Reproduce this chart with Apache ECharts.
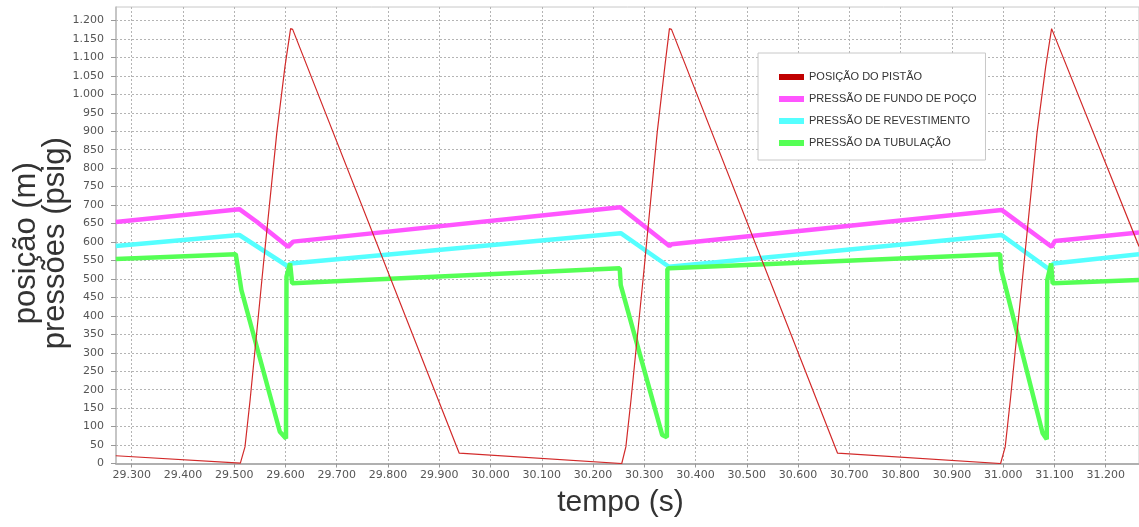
<!DOCTYPE html>
<html>
<head>
<meta charset="utf-8">
<title>posição / pressões</title>
<script src="https://cdn.jsdelivr.net/npm/echarts@6/dist/echarts.min.js"></script>
<style>
    html, body {margin: 0; padding: 0; background: #fff;}
    #main {width: 1139px; height: 527px;}
</style>
</head>
<body>
<div id="main"></div>
<script>
// eixos
const xTicks = [29.3, 29.4, 29.5, 29.6, 29.7, 29.8, 29.9, 30.0, 30.1, 30.2, 30.3, 30.4, 30.5, 30.6, 30.7, 30.8, 30.9, 31.0, 31.1, 31.2];
const yTicks = [0, 50, 100, 150, 200, 250, 300, 350, 400, 450, 500, 550, 600, 650, 700, 750, 800, 850, 900, 950, 1000, 1050, 1100, 1150, 1200];

// [tempo, valor]
const posicaoPistao = [
    [29.269, 21], [29.512, 1], [29.521, 45], [29.531, 172], [29.5565, 533], [29.583, 895], [29.599, 1075],
    [29.610, 1178], [29.614, 1176], [29.939, 28], [30.256, 0],
    [30.264, 45], [30.274, 172], [30.300, 533], [30.325, 895], [30.340, 1075], [30.349, 1178], [30.353, 1176],
    [30.677, 28], [30.995, 0],
    [31.004, 45], [31.014, 172], [31.040, 533], [31.066, 895], [31.083, 1075], [31.0945, 1178], [31.098, 1176],
    [31.265, 588]
];
const pressaoFundo = [
    [29.269, 654], [29.510, 689], [29.544, 655], [29.605, 587], [29.615, 601], [30.253, 694],
    [30.349, 589], [30.353, 594], [30.997, 687], [31.0945, 587], [31.101, 603], [31.265, 626]
];
const pressaoRevestimento = [
    [29.269, 589], [29.510, 619], [29.606, 533], [29.610, 542], [30.254, 624], [30.348, 533],
    [30.997, 619], [31.090, 526], [31.098, 542], [31.265, 567]
];
const pressaoTubulacao = [
    [29.269, 554], [29.503, 567], [29.514, 470], [29.589, 86], [29.601, 68], [29.602, 506], [29.609, 542],
    [29.613, 488], [30.252, 529], [30.254, 483], [30.335, 77], [30.344, 71], [30.345, 527], [30.3495, 529],
    [30.994, 567], [30.996, 526], [31.077, 82], [31.085, 66], [31.086, 497], [31.0935, 542], [31.0965, 488],
    [31.265, 497]
];

const tickFont = {fontFamily: 'DejaVu Sans', fontSize: 11, color: '#555'};
const gridLine = {show: true, lineStyle: {color: '#b4b4b4', type: [2, 2], width: 1}};

function fmtMilhar(v) {
    return String(v).replace(/\B(?=(\d{3})+(?!\d))/g, '.');
}

const chart = echarts.init(document.getElementById('main'));
chart.setOption({
    animation: false,
    backgroundColor: '#fff',
    grid: {
        left: 116, right: 0, top: 7, bottom: 63.5,
        outerBoundsMode: 'none', containLabel: false,
        show: true, borderColor: '#c8c8c8', borderWidth: 1
    },
    legend: {
        orient: 'vertical', left: 758, top: 53,
        backgroundColor: '#fff', borderColor: '#c8c8c8', borderWidth: 1,
        padding: [17, 9, 10, 21],
        itemWidth: 25, itemHeight: 6, itemGap: 8, icon: 'rect',
        textStyle: {fontFamily: 'Liberation Sans', fontSize: 11, lineHeight: 14, color: '#333'}
    },
    xAxis: {
        type: 'value', min: 29.2694, max: 31.265,
        name: 'tempo (s)', nameLocation: 'middle', nameGap: 24,
        nameTextStyle: {fontFamily: 'Liberation Sans', fontSize: 30, color: '#333', padding: [0, 14, 0, 0]},
        axisLine: {show: true, onZero: false, lineStyle: {color: '#b0b0b0', width: 2}},
        axisTick: {show: true, length: 4, customValues: xTicks, lineStyle: {color: '#999'}},
        axisLabel: {
            margin: 6, customValues: xTicks, ...tickFont,
            formatter: v => v.toFixed(3)
        },
        splitLine: gridLine
    },
    yAxis: {
        type: 'value', min: 0, max: 1236.6,
        name: 'posição (m)\npressões (psig)', nameLocation: 'middle', nameGap: 46, nameRotate: 90,
        nameMoveOverlap: false,
        nameTextStyle: {fontFamily: 'Liberation Sans', fontSize: 31, lineHeight: 29, color: '#333', padding: [0, 16, 0, 0]},
        axisLine: {show: true, lineStyle: {color: '#bbb', width: 1.5}},
        axisTick: {show: true, length: 5, customValues: yTicks, lineStyle: {color: '#999'}},
        axisLabel: {margin: 12, customValues: yTicks, ...tickFont, formatter: v => fmtMilhar(v)},
        splitLine: gridLine
    },
    series: [
        {
            name: 'POSIÇÃO DO PISTÃO', type: 'line', data: posicaoPistao, showSymbol: false, z: 5,
            itemStyle: {color: '#c00000'}, lineStyle: {color: '#d22a2a', width: 1.2}
        },
        {
            name: 'PRESSÃO DE FUNDO DE POÇO', type: 'line', data: pressaoFundo, showSymbol: false,
            itemStyle: {color: '#ff55ff'}, lineStyle: {color: '#ff55ff', width: 4.5}
        },
        {
            name: 'PRESSÃO DE REVESTIMENTO', type: 'line', data: pressaoRevestimento, showSymbol: false,
            itemStyle: {color: '#55ffff'}, lineStyle: {color: '#55ffff', width: 4.5}
        },
        {
            name: 'PRESSÃO DA TUBULAÇÃO', type: 'line', data: pressaoTubulacao, showSymbol: false,
            itemStyle: {color: '#55ff55'}, lineStyle: {color: '#55ff55', width: 4.5}
        }
    ]
});
</script>
</body>
</html>
